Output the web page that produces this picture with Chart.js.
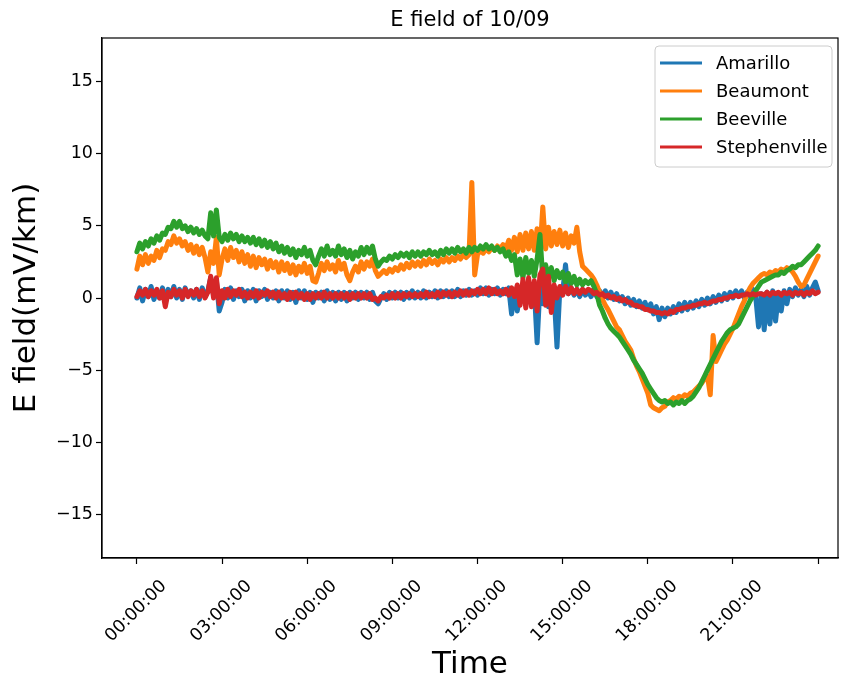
<!DOCTYPE html>
<html>
<head>
<meta charset="utf-8">
<title>E field of 10/09</title>
<script src="https://cdn.jsdelivr.net/npm/chart.js@4.4.1/dist/chart.umd.min.js"></script>
<style>
  html, body { margin: 0; padding: 0; background: #fff; }
</style>
</head>
<body>
<canvas id="myChart" width="847" height="681"></canvas>
<script>
// stations, in plotting order
const stationNames = ["Amarillo", "Beaumont", "Beeville", "Stephenville"];
const stationColors = ["#1f77b4", "#ff7f0e", "#2ca02c", "#d62728"];
const chartTitle = "E field of 10/09";

// samples are every 0.1 h from 00:00 to 24:00 (241 per station)
const sampleStepHours = 0.1;

const xTickHours = [0, 3, 6, 9, 12, 15, 18, 21, 24];
const xTickLabels = ["00:00:00", "03:00:00", "06:00:00", "09:00:00", "12:00:00", "15:00:00", "18:00:00", "21:00:00", ""];
const yTickValues = [-15, -10, -5, 0, 5, 10, 15];

// E field, mV/km (one row per hour)
const amarillo = [
  0.0, 0.7, -0.2, 0.6, 0.1, 0.8, -0.1, 0.5, 0.0, 0.7,
  -0.2, 0.6, 0.1, 0.8, 0.0, 0.6, -0.1, 0.7, 0.2, 0.5,
  0.0, 0.6, -0.1, 0.7, 0.1, 0.5, 1.4, 0.2, 1.2, -0.9,
  -0.3, 0.6, 0.0, 0.7, -0.1, 0.5, 0.1, 0.6, -0.2, 0.5,
  0.0, 0.6, -0.2, 0.5, 0.1, 0.6, -0.1, 0.4, 0.0, 0.5,
  -0.2, 0.5, 0.0, 0.5, -0.1, 0.4, -0.3, 0.5, 0.0, 0.5,
  -0.1, 0.4, -0.3, 0.4, 0.0, 0.4, -0.2, 0.5, -0.1, 0.4,
  -0.2, 0.4, -0.1, 0.4, -0.2, 0.4, 0.0, 0.4, -0.1, 0.4,
  0.0, 0.4, -0.1, 0.4, -0.2, -0.4, 0.0, 0.3, -0.1, 0.4,
  0.0, 0.4, 0.0, 0.4, -0.1, 0.4, 0.0, 0.5, 0.0, 0.4,
  0.0, 0.5, 0.0, 0.4, 0.1, 0.5, 0.0, 0.5, 0.1, 0.5,
  0.1, 0.5, 0.1, 0.6, 0.1, 0.5, 0.2, 0.6, 0.2, 0.5,
  0.2, 0.7, 0.3, 0.7, 0.2, 0.6, 0.3, 0.7, 0.2, 0.6,
  0.3, 0.7, -1.1, 0.5, -0.9, 0.4, 0.6, -0.2, 0.5, 0.0,
  0.6, -3.1, 0.8, -0.4, 0.9, -0.6, 0.7, 0.2, -3.4, 0.6,
  0.4, 2.3, 0.3, 0.7, 0.2, 0.6, 0.1, 0.6, 0.2, 0.5,
  0.1, 0.6, 0.1, 0.5, 0.1, 0.5, 0.0, 0.4, -0.1, 0.3,
  -0.2, 0.1, -0.4, 0.0, -0.5, -0.1, -0.6, -0.2, -0.7, -0.3,
  -0.8, -0.4, -1.1, -0.6, -1.5, -0.7, -1.3, -0.7, -1.1, -0.6,
  -1.0, -0.4, -0.9, -0.3, -0.8, -0.3, -0.7, -0.2, -0.6, -0.1,
  -0.5, 0.0, -0.4, 0.1, -0.3, 0.2, -0.2, 0.3, -0.1, 0.4,
  0.0, 0.5, 0.1, 0.5, 0.0, 0.4, 0.1, 0.6, 0.1, -2.0,
  0.3, -2.2, 0.4, -1.8, 0.5, -1.6, 0.2, -0.9, 0.5, -0.4,
  0.6, 0.1, 0.7, 0.2, 0.6, 0.1, 0.8, 0.2, 0.7, 1.1,
  0.5
];

const beaumont = [
  2.0, 2.9, 2.3, 3.0, 2.4, 2.9, 2.6, 3.3, 2.8, 3.4,
  3.3, 3.9, 3.7, 4.3, 3.8, 4.1, 3.6, 3.9, 3.3, 3.7,
  3.1, 3.6, 3.0, 3.5, 2.8, 1.8, 3.2, 2.4, 4.2, 1.6,
  2.7, 3.4, 2.6, 3.5, 2.8, 3.3, 2.5, 3.2, 2.4, 3.0,
  2.2, 2.9, 2.1, 2.8, 2.3, 2.7, 2.0, 2.6, 2.1, 2.5,
  1.8, 2.5, 1.9, 2.4, 1.7, 2.3, 1.6, 2.2, 1.8, 2.4,
  1.7, 2.2, 1.2, 1.1, 1.7, 2.4, 1.9, 2.5, 2.0, 2.3,
  1.8, 2.6, 2.0, 2.4, 1.6, 1.2, 1.8, 2.2, 1.8, 2.5,
  2.0, 2.5, 2.2, 2.7, 1.9, 1.5, 1.7, 1.9, 1.7, 2.0,
  1.8, 2.1, 1.9, 2.3, 2.0, 2.4, 2.1, 2.5, 2.2, 2.5,
  2.2, 2.6, 2.3, 2.7, 2.4, 2.6, 2.3, 2.7, 2.5, 2.8,
  2.5, 2.8, 2.6, 2.9, 2.7, 3.0, 2.8, 3.0, 8.0, 1.6,
  3.0, 3.3, 3.1, 3.4, 3.2, 3.5, 3.3, 3.6, 3.4, 3.7,
  3.4, 4.0, 3.3, 4.2, 3.2, 4.4, 3.3, 4.5, 3.4, 4.6,
  3.3, 4.8, 3.2, 6.3, 3.4, 4.9, 3.6, 4.6, 3.7, 4.7,
  3.6, 4.5, 3.5, 4.3, 3.8, 4.9, 3.2, 2.2, 2.0, 1.8,
  1.6, 1.3, 0.9, 0.4, -0.1, -0.5, -0.8, -1.2, -1.6, -2.0,
  -2.2, -2.6, -3.0, -3.3, -3.6, -4.2, -4.7, -5.1, -5.6, -6.1,
  -6.6, -7.4, -7.6, -7.7, -7.8, -7.6, -7.5, -7.2, -7.1, -6.9,
  -7.0, -6.8, -6.9, -6.7, -6.8, -6.6, -6.5, -6.3, -6.1, -5.9,
  -5.6, -5.4, -6.7, -2.6, -4.4, -4.0, -3.6, -3.2, -2.9, -2.5,
  -2.1, -1.6, -1.1, -0.6, -0.2, 0.3, 0.7, 1.0, 1.2, 1.4,
  1.6, 1.7, 1.6, 1.8, 1.7, 1.9, 1.8, 2.0, 1.9, 2.1,
  2.0, 1.8, 1.5, 1.1, 0.8, 0.9, 1.3, 1.7, 2.1, 2.5,
  2.9
];

const beeville = [
  3.2, 3.8, 3.4, 3.9, 3.6, 4.1, 3.8, 4.3, 4.0, 4.5,
  4.4, 4.9, 4.8, 5.3, 4.9, 5.3, 4.8, 5.0, 4.6, 4.9,
  4.5, 4.8, 4.4, 4.7, 4.3, 4.1, 5.9, 4.3, 6.1, 4.2,
  3.9, 4.4, 4.0, 4.5, 4.1, 4.4, 3.9, 4.3, 3.9, 4.2,
  3.8, 4.2, 3.7, 4.1, 3.6, 4.0, 3.5, 3.9, 3.4, 3.8,
  3.2, 3.6, 3.1, 3.5, 3.0, 3.4, 2.8, 3.3, 3.0, 3.5,
  2.9, 3.3, 2.6, 2.3, 2.9, 3.4, 2.9, 3.6, 3.0, 3.3,
  2.9, 3.6, 3.0, 3.4, 2.8, 3.3, 2.7, 3.2, 2.9, 3.5,
  3.0, 3.5, 3.1, 3.6, 2.7, 2.2, 2.5, 2.7, 2.6, 2.9,
  2.7, 3.0, 2.8, 3.1, 2.9, 3.1, 2.8, 3.2, 2.9, 3.2,
  2.9, 3.2, 3.0, 3.3, 3.0, 3.2, 2.9, 3.3, 3.0, 3.4,
  3.1, 3.4, 3.1, 3.5, 3.2, 3.4, 3.1, 3.5, 3.2, 3.5,
  3.3, 3.6, 3.4, 3.7, 3.4, 3.6, 3.3, 3.5, 3.2, 3.4,
  2.9, 3.2, 2.6, 3.0, 1.6, 2.7, 1.4, 2.8, 1.7, 2.6,
  1.5, 2.7, 4.4, 1.3, 2.3, 1.5, 2.1, 1.2, 1.9, 1.4,
  1.8, 1.1, 1.7, 1.0, 1.5, 0.9, 1.3, 0.9, 1.2, 1.0,
  1.2, 0.8, 0.3, -0.5, -0.9, -1.4, -1.8, -2.1, -2.3, -2.5,
  -2.7, -3.0, -3.3, -3.6, -3.9, -4.3, -4.6, -4.9, -5.2, -5.6,
  -6.0, -6.3, -6.6, -6.9, -7.1, -7.2, -7.1, -7.3, -7.2, -7.4,
  -7.2, -7.3, -7.1, -7.3, -7.1, -7.0, -6.8, -6.5, -6.2, -5.8,
  -5.4, -5.0, -4.6, -4.2, -3.8, -3.4, -3.0, -2.7, -2.4, -2.2,
  -2.1, -2.0, -1.8, -1.4, -1.0, -0.6, -0.2, 0.1, 0.5, 0.8,
  1.1, 1.2, 1.3, 1.4, 1.5, 1.6, 1.6, 1.8, 1.7, 1.9,
  2.0, 2.2, 2.1, 2.3, 2.3, 2.5, 2.7, 2.9, 3.1, 3.3,
  3.6
];

const stephenville = [
  0.1, 0.5, 0.2, 0.6, 0.1, 0.5, 0.2, 0.6, 0.0, 0.5,
  -0.6, 0.4, 0.1, 0.6, 0.2, 0.5, 0.0, 0.6, 0.1, 0.5,
  0.2, 0.6, 0.1, 0.5, 0.0, 0.4, 1.5, 0.0, 1.4, -0.4,
  0.5, 0.0, 0.6, 0.1, 0.5, 0.2, 0.6, 0.1, 0.4, 0.0,
  0.4, 0.1, 0.5, 0.0, 0.4, 0.2, 0.5, 0.1, 0.4, 0.0,
  0.4, 0.0, 0.3, -0.1, 0.4, 0.0, 0.4, 0.0, 0.3, -0.1,
  0.3, -0.1, 0.3, 0.0, 0.3, 0.0, 0.4, 0.0, 0.3, 0.0,
  0.3, 0.0, 0.3, 0.0, 0.3, -0.1, 0.3, 0.0, 0.3, 0.0,
  0.3, 0.0, 0.3, -0.1, 0.0, -0.2, 0.1, 0.0, 0.2, 0.0,
  0.3, 0.0, 0.3, 0.0, 0.3, 0.1, 0.3, 0.1, 0.3, 0.1,
  0.3, 0.1, 0.4, 0.1, 0.3, 0.1, 0.4, 0.1, 0.4, 0.2,
  0.4, 0.1, 0.4, 0.2, 0.5, 0.2, 0.5, 0.2, 0.5, 0.3,
  0.6, 0.3, 0.6, 0.3, 0.7, 0.3, 0.6, 0.3, 0.5, 0.3,
  0.6, 0.2, 0.7, 0.1, 0.9, -0.5, 1.3, -0.7, 1.4, -0.6,
  1.2, -0.9, 1.6, 2.0, -0.5, 1.5, -1.0, 0.9, 0.0, 0.8,
  0.2, 0.8, 0.3, 0.7, 0.3, 0.6, 0.3, 0.6, 0.4, 0.6,
  0.5, 0.3, 0.4, 0.2, 0.3, 0.1, 0.2, 0.0, 0.1, -0.1,
  0.0, -0.2, -0.1, -0.3, -0.3, -0.5, -0.5, -0.6, -0.6, -0.8,
  -0.8, -0.9, -0.9, -1.0, -1.0, -1.1, -1.0, -1.1, -0.9, -1.0,
  -0.8, -0.8, -0.7, -0.7, -0.6, -0.6, -0.5, -0.5, -0.4, -0.4,
  -0.3, -0.4, -0.3, -0.2, -0.2, -0.1, -0.1, 0.0, 0.0, 0.1,
  0.1, 0.2, 0.1, 0.2, 0.2, 0.3, 0.2, 0.3, 0.2, 0.3,
  0.3, 0.2, 0.4, 0.2, 0.4, 0.3, 0.4, 0.2, 0.4, 0.3,
  0.4, 0.2, 0.4, 0.3, 0.4, 0.2, 0.4, 0.3, 0.5, 0.3,
  0.4
];

const stationValues = [amarillo, beaumont, beeville, stephenville];

document.addEventListener("DOMContentLoaded", chart);

// title centred over the axes (as pyplot does), plus the box round them
const frameAndTitle = {
  id: "frameAndTitle",
  afterDraw(chart) {
    const { ctx, chartArea } = chart;
    ctx.save();
    ctx.strokeStyle = "#000";
    ctx.lineWidth = 1.2;
    ctx.strokeRect(chartArea.left, chartArea.top, chartArea.right - chartArea.left, chartArea.bottom - chartArea.top);

    ctx.font = "21px 'DejaVu Sans'";
    ctx.fillStyle = "#000";
    ctx.textAlign = "center";
    ctx.textBaseline = "alphabetic";
    ctx.fillText(chartTitle, (chartArea.left + chartArea.right) / 2, chartArea.top - 12);
    ctx.restore();
  },
};

// legend drawn inside the plot, upper right
const insideLegend = {
  id: "insideLegend",
  afterDraw(chart) {
    const { ctx, chartArea } = chart;
    const boxW = 177;
    const boxH = 121;
    const rowH = 28;
    const x0 = chartArea.right - 6 - boxW;
    const y0 = chartArea.top + 8;

    ctx.save();
    ctx.beginPath();
    ctx.roundRect(x0, y0, boxW, boxH, 4);
    ctx.fillStyle = "rgba(255,255,255,0.8)";
    ctx.fill();
    ctx.strokeStyle = "#cccccc";
    ctx.lineWidth = 1;
    ctx.stroke();

    ctx.font = "18px 'DejaVu Sans'";
    ctx.textBaseline = "middle";
    ctx.fillStyle = "#000";
    chart.data.datasets.forEach((ds, i) => {
      const y = y0 + 17 + i * rowH;
      ctx.beginPath();
      ctx.moveTo(x0 + 5, y);
      ctx.lineTo(x0 + 47, y);
      ctx.strokeStyle = ds.borderColor;
      ctx.lineWidth = 3;
      ctx.stroke();
      ctx.fillText(ds.label, x0 + 61, y + 1);
    });
    ctx.restore();
  },
};

function chart() {
  const ctx = document.getElementById("myChart");

  Chart.defaults.font.family = "'DejaVu Sans', sans-serif";
  Chart.defaults.color = "#000";

  const datasets = stationNames.map((name, i) => ({
    label: name,
    data: stationValues[i].map((v, k) => ({ x: k * sampleStepHours, y: v })),
    borderColor: stationColors[i],
    backgroundColor: stationColors[i],
    borderWidth: 5,
    borderJoinStyle: "round",
    borderCapStyle: "round",
    pointRadius: 0,
    tension: 0,
    order: stationNames.length - i, // later stations on top, like pyplot
  }));

  new Chart(ctx, {
    type: "line",
    data: { datasets: datasets },
    options: {
      responsive: false,
      animation: false,
      devicePixelRatio: 1,
      layout: { padding: { left: 0, right: 9, top: 38, bottom: 0 } },
      plugins: {
        legend: { display: false },
        tooltip: { enabled: false },
        title: { display: false },
      },
      scales: {
        x: {
          type: "linear",
          min: -1.23,
          max: 24.7,
          afterBuildTicks: (scale) => {
            scale.ticks = xTickHours.map((v) => ({ value: v }));
          },
          afterFit: (scale) => {
            scale.height = 123;
          },
          ticks: {
            autoSkip: false,
            minRotation: 45,
            maxRotation: 45,
            padding: 12,
            labelOffset: 27,
            font: { size: 17.5 },
            callback: (value) => xTickLabels[xTickHours.indexOf(value)],
          },
          grid: { display: true, drawOnChartArea: false, drawTicks: true, tickLength: 6, tickColor: "#000", tickWidth: 1.2 },
          border: { display: true, color: "#000", width: 1.2 },
          title: { display: true, text: "Time", font: { size: 31, lineHeight: 1 }, padding: { top: 0, bottom: 1 } },
        },
        y: {
          min: -18,
          max: 18,
          afterBuildTicks: (scale) => {
            scale.ticks = yTickValues.map((v) => ({ value: v }));
          },
          afterFit: (scale) => {
            scale.width = 102;
          },
          ticks: {
            padding: 3,
            font: { size: 17.5 },
            callback: (value) => String(value).replace("-", "\u2212"),
          },
          grid: { display: true, drawOnChartArea: false, drawTicks: true, tickLength: 6, tickColor: "#000", tickWidth: 1.2 },
          border: { display: true, color: "#000", width: 1.2 },
          title: { display: true, text: "E field(mV/km)", font: { size: 31, lineHeight: 1 }, padding: { top: 11, bottom: 0 } },
        },
      },
    },
    plugins: [frameAndTitle, insideLegend],
  });
}
</script>
</body>
</html>
